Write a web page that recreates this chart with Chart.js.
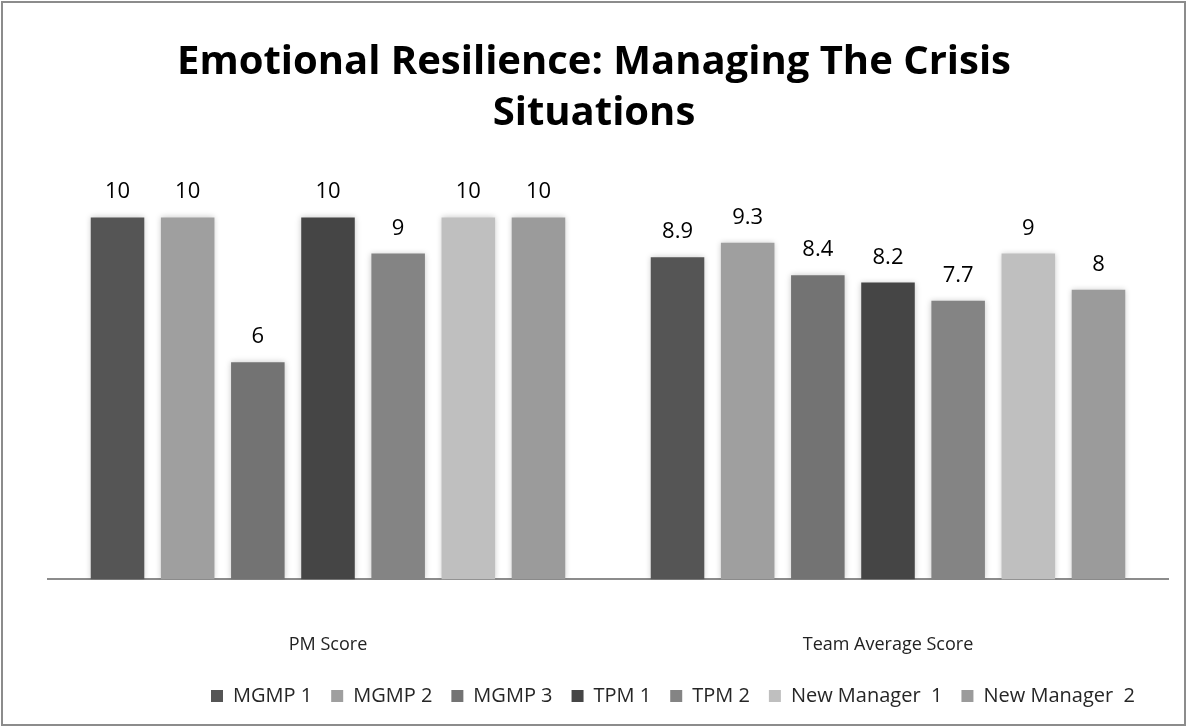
<!DOCTYPE html>
<html>
<head>
<meta charset="utf-8">
<script src="https://cdn.jsdelivr.net/npm/chart.js@4"></script>
<style>
  html, body { margin: 0; padding: 0; background: #fff; }
  canvas { display: block; }
</style>
</head>
<body>
<canvas id="c" width="1187" height="727"></canvas>
<script>
const categories = ["PM Score", "Team Average Score"];
const seriesNames = ["MGMP 1", "MGMP 2", "MGMP 3", "TPM 1", "TPM 2", "New Manager  1", "New Manager  2"];
const mgmp1 = [10, 8.9];
const mgmp2 = [10, 9.3];
const mgmp3 = [6, 8.4];
const tpm1 = [10, 8.2];
const tpm2 = [9, 7.7];
const newManager1 = [10, 9];
const newManager2 = [10, 8];
const seriesColors = ["#555555", "#9f9f9f", "#737373", "#454545", "#848484", "#bfbfbf", "#9b9b9b"];
const seriesValues = [mgmp1, mgmp2, mgmp3, tpm1, tpm2, newManager1, newManager2];

const FONT = "'Open Sans', 'Liberation Sans', sans-serif";

const framePlugin = {
  id: 'frame',
  afterLayout(chart) {
    const lg = chart.legend;
    if (lg) { lg.left += 65; lg.right += 65; }
    const tb = chart.titleBlock;
    if (tb) { tb.left -= 14; tb.right -= 14; }
  },
  beforeDraw(chart) {
    const ctx = chart.ctx;
    ctx.save();
    ctx.fillStyle = '#fff';
    ctx.fillRect(0, 0, chart.width, chart.height);
    ctx.strokeStyle = '#8c8c8c';
    ctx.lineWidth = 2;
    ctx.strokeRect(2, 2, 1183, 723);
    ctx.restore();
  },
  beforeDatasetsDraw(chart) {
    const ctx = chart.ctx;
    ctx.save();
    ctx.shadowColor = 'rgba(0,0,0,0.22)';
    ctx.shadowBlur = 6;
  },
  afterDatasetsDraw(chart) {
    chart.ctx.restore();
  }
};

const labelPlugin = {
  id: 'valueLabels',
  afterDatasetsDraw(chart) {
    const ctx = chart.ctx;
    ctx.save();
    ctx.fillStyle = '#000';
    ctx.font = "22px " + FONT;
    ctx.textAlign = 'center';
    ctx.textBaseline = 'alphabetic';
    chart.data.datasets.forEach((ds, i) => {
      const meta = chart.getDatasetMeta(i);
      meta.data.forEach((bar, j) => {
        ctx.fillText(String(ds.data[j]), bar.x, bar.y - 19);
      });
    });
    ctx.restore();
  }
};

new Chart(document.getElementById('c'), {
  type: 'bar',
  data: {
    labels: categories,
    datasets: seriesNames.map((n, i) => ({
      label: n,
      data: seriesValues[i],
      backgroundColor: seriesColors[i],
      borderWidth: 0,
      categoryPercentage: 0.877,
      barPercentage: 0.763
    }))
  },
  options: {
    responsive: false,
    animation: false,
    layout: { padding: { left: 48, right: 19, top: 0, bottom: 11 } },
    plugins: {
      title: {
        display: true,
        text: ["Emotional Resilience: Managing The Crisis", "Situations"],
        color: '#000',
        font: { family: FONT, size: 40, weight: 'bold', lineHeight: 1.275 },
        padding: { top: 37, bottom: 6 }
      },
      legend: {
        position: 'bottom',
        labels: {
          color: '#262626',
          font: { family: FONT, size: 20 },
          boxWidth: 12, boxHeight: 12,
          padding: 19
        }
      },
      tooltip: { enabled: false }
    },
    scales: {
      x: {
        grid: { display: false, drawTicks: false },
        border: { display: true, color: '#8c8c8c', width: 2 },
        ticks: { color: '#222', font: { family: FONT, size: 18 }, padding: 55 },
        afterFit(scale) { scale.height -= 44; }
      },
      y: {
        display: false,
        min: 0, max: 12
      }
    }
  },
  plugins: [framePlugin, labelPlugin]
});
</script>
</body>
</html>
